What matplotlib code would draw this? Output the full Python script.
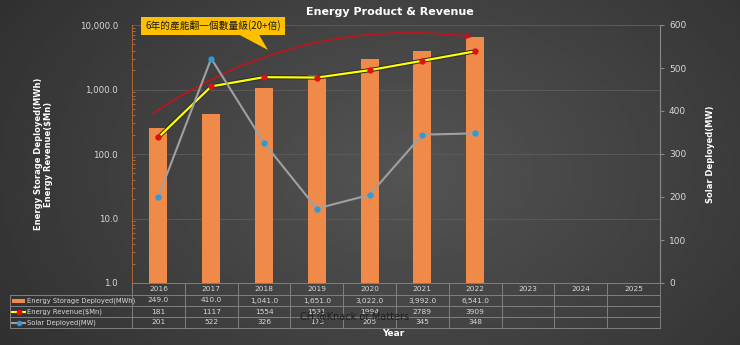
import matplotlib.pyplot as plt
import numpy as np
from matplotlib import transforms
from matplotlib.patches import FancyArrowPatch, Rectangle
from matplotlib.lines import Line2D
from matplotlib.ticker import FixedLocator, LogLocator, NullFormatter

plt.rcParams['font.family'] = ['DejaVu Sans', 'Noto Sans CJK TC']

years = ['2016', '2017', '2018', '2019', '2020', '2021', '2022',
         '2023', '2024', '2025']
storage = [249.0, 410.0, 1041.0, 1651.0, 3022.0, 3992.0, 6541.0]
revenue = [181, 1117, 1554, 1531, 1994, 2789, 3909]
solar = [201, 522, 326, 173, 205, 345, 348]

row_names = ['Energy Storage Deployed(MWh)', 'Energy Revenue($Mn)',
             'Solar Deployed(MW)']
row_text = [['{:,.1f}'.format(v) for v in storage],
            [str(v) for v in revenue],
            [str(v) for v in solar]]

W, H = 740, 345
fig = plt.figure(figsize=(W / 100, H / 100), dpi=100)

# background: dark gradient, lighter in the middle
bg = fig.add_axes([0, 0, 1, 1], zorder=-10)
xx, yy = np.meshgrid(np.linspace(-1, 1, 300), np.linspace(-1, 1, 150))
r = np.sqrt(((xx - 0.1) * 0.9) ** 2 + (yy * 0.6) ** 2)
bg.imshow(0.33 - 0.12 * r, cmap='gray', vmin=0, vmax=1, aspect='auto',
          extent=[0, 1, 0, 1])
bg.axis('off')

ax = fig.add_axes([132 / W, 1 - 283 / H, 528 / W, 258 / H])
ax.set_facecolor('none')
x = np.arange(len(years))
n = len(storage)

ax.bar(x[:n], storage, width=0.34, color='#F08A48', zorder=2)
ax.plot(x[:n], revenue, color='#2a2a2a', lw=3.0, zorder=3)
ax.plot(x[:n], revenue, color='#FFFF00', lw=1.6, marker='o', ms=3.5,
        mfc='#E01010', mec='#E01010', zorder=4)
ax.set_yscale('log')
ax.set_ylim(1, 10000)
ax.set_xlim(-0.5, len(years) - 0.5)
ax.yaxis.set_major_locator(FixedLocator([1, 10, 100, 1000, 10000]))
ax.yaxis.set_major_formatter(lambda v, p: '{:,.1f}'.format(v))
ax.yaxis.set_minor_locator(LogLocator(subs=np.arange(2, 10)))
ax.yaxis.set_minor_formatter(NullFormatter())
ax.tick_params(axis='y', which='both', colors='#C0703A', labelcolor='#D9D9D9',
               labelsize=6.2, length=2, direction='in')
ax.tick_params(axis='y', which='major', length=0, pad=10)
ax.set_xticks([])
ax.grid(axis='y', which='major', color='#5a5a5a', lw=0.7)
for s in ['top', 'right', 'bottom']:
    ax.spines[s].set_visible(False)
ax.spines['left'].set_color('#B0602A')
ax.set_ylabel('Energy Storage Deployed(MWh)\nEnergy Revenue($Mn)',
              color='white', fontsize=6, fontweight='bold', labelpad=19,
              linespacing=1.2)

ax2 = ax.twinx()
ax2.plot(x[:n], solar, color='#A0A0A0', lw=1.5, marker='o', ms=3.5,
         mfc='#2E9BD6', mec='#2E9BD6', zorder=3)
ax2.set_ylim(0, 600)
ax2.set_yticks(range(0, 601, 100))
ax2.tick_params(axis='y', colors='#8a8a8a', labelcolor='#D9D9D9',
                labelsize=6.5, length=3)
for s in ['top', 'left', 'bottom']:
    ax2.spines[s].set_visible(False)
ax2.spines['right'].set_color('#8a8a8a')
ax2.set_ylabel('Solar Deployed(MW)', color='white', fontsize=6,
               fontweight='bold', labelpad=14)

# red curved arrow
arc = FancyArrowPatch((-0.15, 400), (6.0, 6500),
                      connectionstyle='arc3,rad=-0.19', arrowstyle='-|>',
                      mutation_scale=9, color='#C0141C', lw=1.2, zorder=5)
ax.add_patch(arc)

# callout
fig.text(213 / W, 1 - 26 / H, '6年的產能翻一個數量級(20+倍)', fontsize=7,
         color='#1a1a1a', ha='center', va='center',
         family=['Noto Sans CJK TC', 'DejaVu Sans'],
         bbox=dict(boxstyle='square,pad=0.4', fc='#FFC000', ec='none'))
fig.patches.append(plt.Polygon([[236 / W, 1 - 33 / H], [258 / W, 1 - 33 / H],
                                [268 / W, 1 - 50 / H]], closed=True,
                               fc='#FFC000', ec='none',
                               transform=fig.transFigure))

fig.text(390 / W, 1 - 12 / H, 'Energy Product & Revenue', color='white',
         fontsize=8, fontweight='bold', ha='center', va='center')

# data table
tr = transforms.blended_transform_factory(ax.transData, fig.transFigure)
rows_y = [283, 295, 306, 317, 328]
lc = '#808080'
tc = '#D9D9D9'
fy = lambda v: 1 - v / H
for yv in rows_y:
    fig.add_artist(Line2D([-0.5, len(years) - 0.5], [fy(yv), fy(yv)],
                          transform=tr, color=lc, lw=0.7))
for xv in np.arange(-0.5, len(years), 1):
    fig.add_artist(Line2D([xv, xv], [fy(rows_y[0]), fy(rows_y[-1])],
                          transform=tr, color=lc, lw=0.7))
for yv in rows_y[1:]:
    fig.add_artist(Line2D([10 / W, 132 / W], [fy(yv), fy(yv)],
                          transform=fig.transFigure, color=lc, lw=0.7))
fig.add_artist(Line2D([10 / W, 10 / W], [fy(rows_y[1]), fy(rows_y[-1])],
                      transform=fig.transFigure, color=lc, lw=0.7))
for i, yr in enumerate(years):
    fig.text(i, fy((rows_y[0] + rows_y[1]) / 2), yr, transform=tr,
             ha='center', va='center', fontsize=5.3, color=tc)
for j, vals in enumerate(row_text):
    yc = fy((rows_y[j + 1] + rows_y[j + 2]) / 2)
    for i, v in enumerate(vals):
        fig.text(i, yc, v, transform=tr, ha='center', va='center',
                 fontsize=5.3, color=tc)
    fig.text(27 / W, yc, row_names[j], ha='left', va='center',
             fontsize=4.9, color=tc)

y1 = fy((rows_y[1] + rows_y[2]) / 2)
fig.patches.append(Rectangle((12 / W, y1 - 2 / H), 13 / W, 4 / H,
                             fc='#F08A48', ec='none',
                             transform=fig.transFigure))
y2 = fy((rows_y[2] + rows_y[3]) / 2)
fig.add_artist(Line2D([12 / W, 25 / W], [y2, y2], color='#FFFF00', lw=1.5,
                      transform=fig.transFigure))
fig.add_artist(Line2D([18.5 / W], [y2], color='#E01010', marker='o', ms=3,
                      lw=0, transform=fig.transFigure))
y3 = fy((rows_y[3] + rows_y[4]) / 2)
fig.add_artist(Line2D([12 / W, 25 / W], [y3, y3], color='#A0A0A0', lw=1.5,
                      transform=fig.transFigure))
fig.add_artist(Line2D([18.5 / W], [y3], color='#2E9BD6', marker='o', ms=3,
                      lw=0, transform=fig.transFigure))

fig.text(393 / W, fy(334), 'Year', color='white', fontsize=6.5,
         fontweight='bold', ha='center', va='center')
fig.text(300 / W, fy(316), 'CH.@Knack of Matters', color='#1e1e1e',
         fontsize=7, ha='left', va='center')

fig.savefig('out.png', dpi=100)
